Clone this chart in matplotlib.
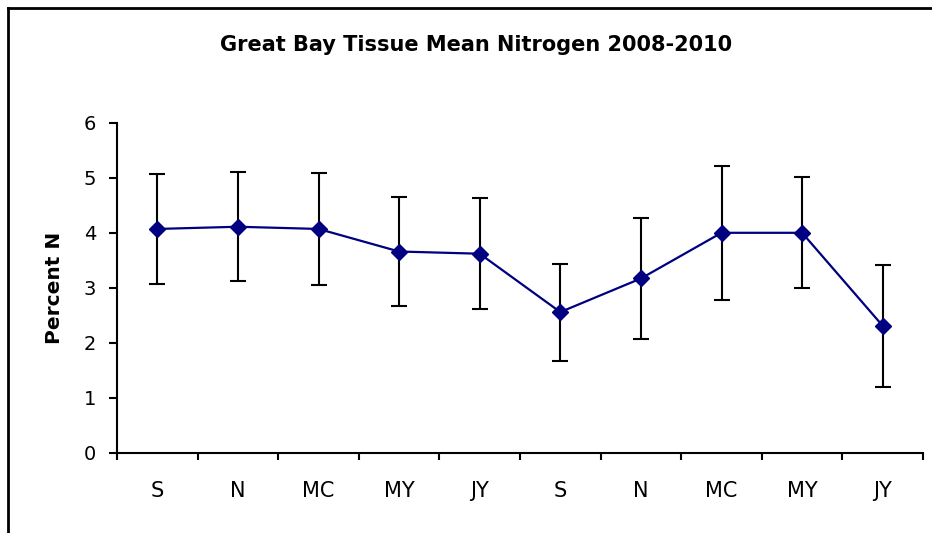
import matplotlib
matplotlib.use("Agg")
import matplotlib.pyplot as plt
from matplotlib.lines import Line2D
import numpy as np

categories = ["S", "N", "MC", "MY", "JY", "S", "N", "MC", "MY", "JY"]
mean_n = [4.07, 4.11, 4.07, 3.66, 3.62, 2.56, 3.17, 4.00, 4.00, 2.31]
err_n = [1.00, 0.99, 1.01, 0.99, 1.01, 0.88, 1.10, 1.22, 1.01, 1.11]
yticks = [0, 1, 2, 3, 4, 5, 6]

plt.rcParams['font.family'] = ['DejaVu Sans']

fig = plt.figure(figsize=(9.32, 5.33), dpi=100)
ax = fig.add_axes([117/932, 80/533, (923-117)/932, (453-122.7)/533])

x = np.arange(len(categories)) + 0.5
ax.errorbar(x, mean_n, yerr=err_n, fmt='none', ecolor='black',
            elinewidth=1.5, capsize=5.5, capthick=1.5, zorder=2)
ax.plot(x, mean_n, color='#000080', linewidth=1.6, marker='D',
        markersize=8, markerfacecolor='#000080', markeredgecolor='#000080', zorder=3)

ax.set_xlim(0, len(categories))
ax.set_ylim(0, 6)
ax.set_yticks(yticks)
ax.set_yticklabels([str(v) for v in yticks], fontsize=14)
ax.set_xticks(np.arange(len(categories) + 1))
ax.set_xticklabels([])
ax.set_xticks(x, minor=True)
ax.set_xticklabels(categories, minor=True, fontsize=15)
ax.tick_params(axis='x', which='minor', length=0, pad=20)
ax.tick_params(axis='x', which='major', length=5, width=1.5, direction='out')
ax.tick_params(axis='y', length=6, width=1.5, direction='out', pad=9)

for s in ['top', 'right']:
    ax.spines[s].set_visible(False)
for s in ['left', 'bottom']:
    ax.spines[s].set_linewidth(1.5)

ax.set_ylabel("Percent N", fontsize=14.5, fontweight='bold', labelpad=14)
fig.text(476/932, 1 - 45/533, "Great Bay Tissue Mean Nitrogen 2008-2010",
         ha='center', va='center', fontsize=15, fontweight='bold')

# chart border (left and top visible)
fig.add_artist(Line2D([8/932, 8/932], [0, 1 - 8/533], transform=fig.transFigure,
                      color='black', linewidth=2))
fig.add_artist(Line2D([8/932, 1], [1 - 8/533, 1 - 8/533], transform=fig.transFigure,
                      color='black', linewidth=2))

fig.savefig("out.png", dpi=100)
